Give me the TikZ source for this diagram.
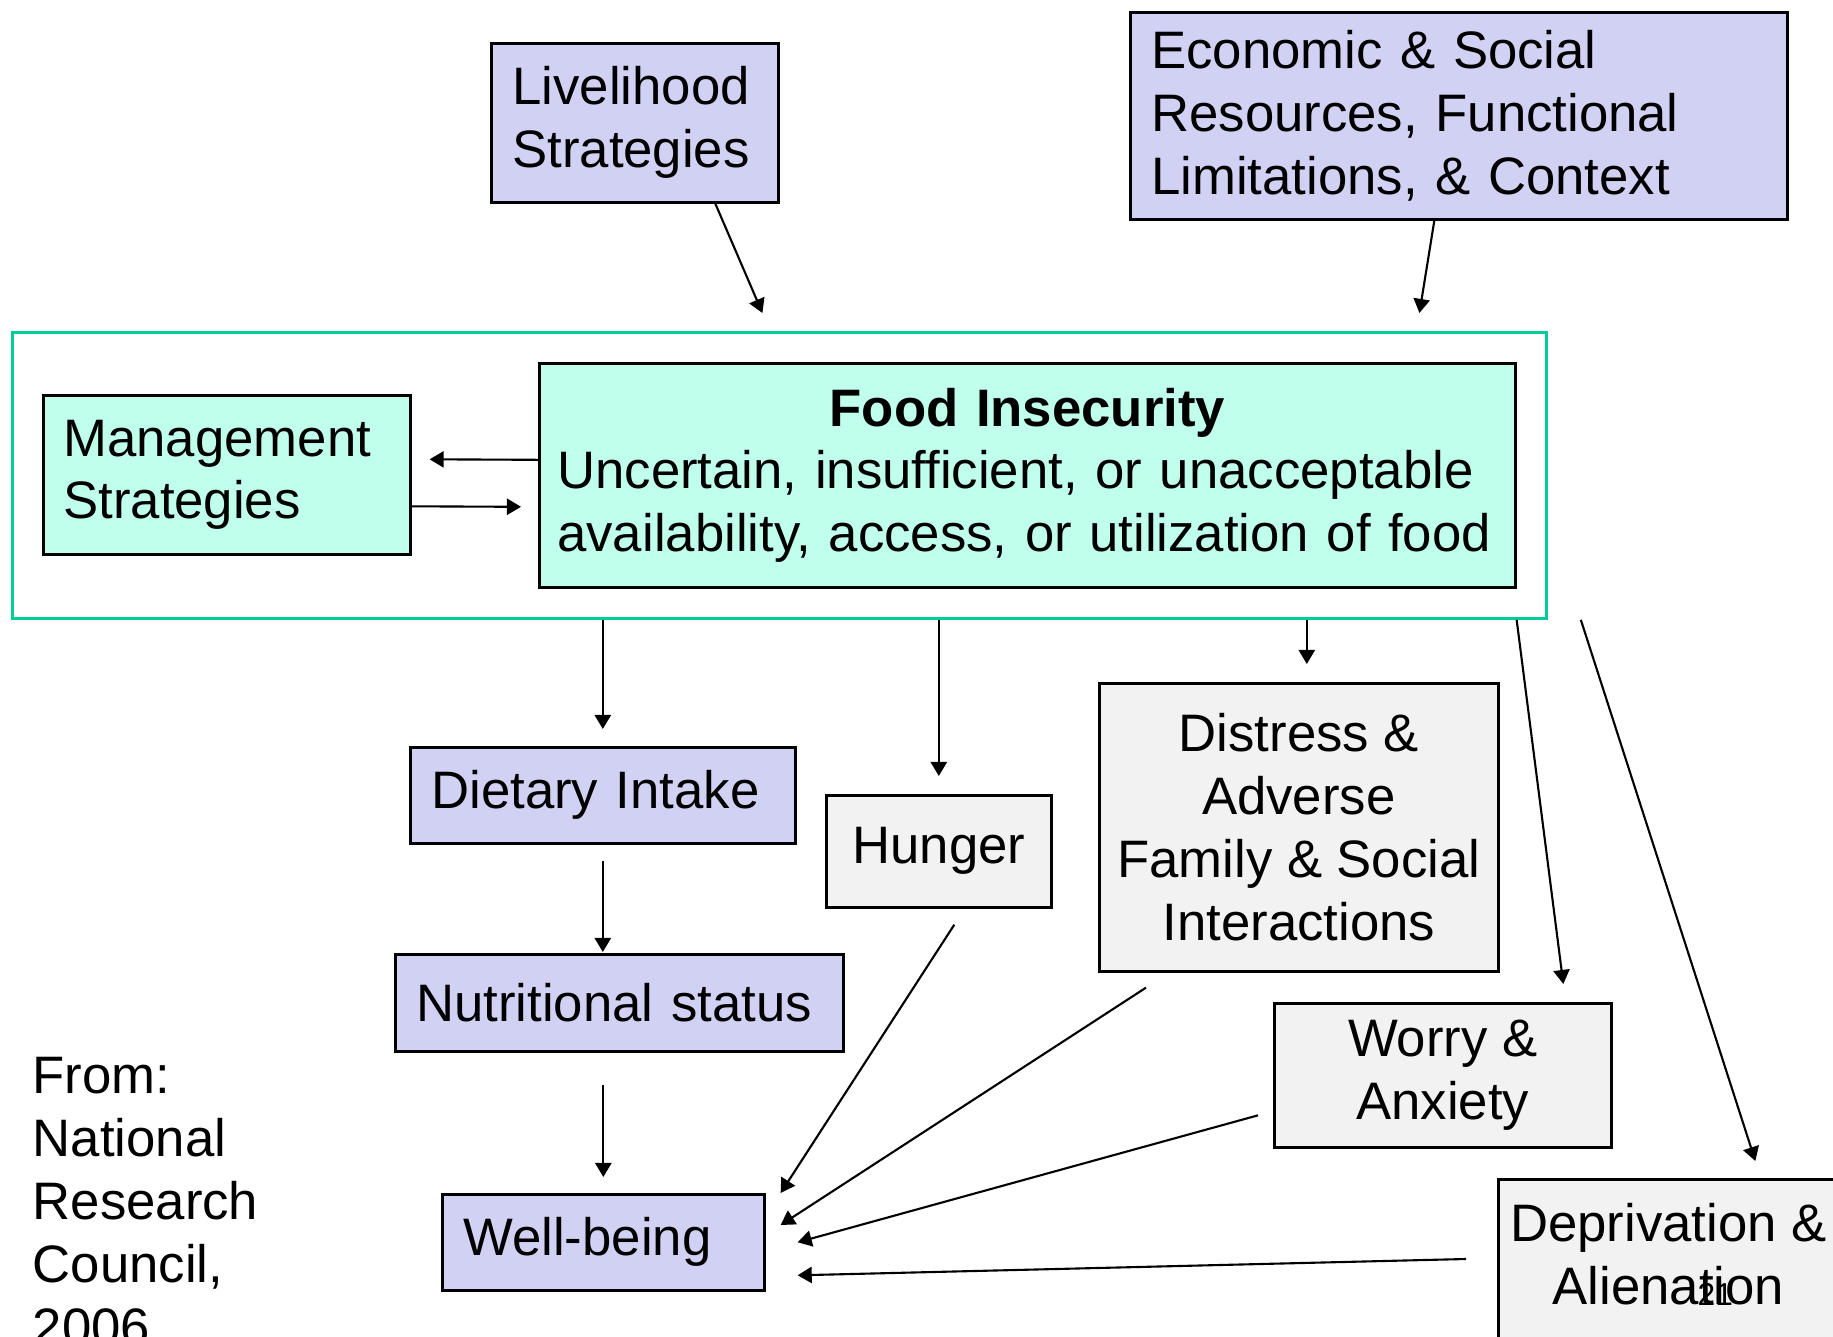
\documentclass[tikz,border=0pt]{standalone}
\usepackage{fontspec}
\setmainfont{Liberation Sans}
\usepackage{xcolor}
\usepackage{tikz}
\usetikzlibrary{calc, arrows.meta}
\definecolor{lavbox}{RGB}{209,209,243}
\definecolor{mintbox}{RGB}{192,255,236}
\definecolor{greybox}{RGB}{242,242,242}
\definecolor{frameline}{RGB}{0,204,153}
\tikzstyle{cause}   = [rectangle, anchor=north west, align=left, inner xsep=0.21cm, draw=black, line width=0.75pt, fill=lavbox]
\tikzstyle{core}    = [rectangle, anchor=north west, align=left, inner xsep=0.18cm, draw=black, line width=0.75pt, fill=mintbox]
\tikzstyle{effect}  = [rectangle, anchor=north west, align=center, inner sep=0pt, draw=black, line width=0.75pt, fill=greybox]
\tikzstyle{framebox}= [rectangle, anchor=north west, inner sep=0pt, draw=frameline, line width=0.8pt]
\tikzstyle{arrow}   = [line width=0.6pt, -{Triangle[length=4pt,width=4.6pt]}]

\begin{document}
\begin{tikzpicture}[font=\fontsize{15pt}{17.9pt}\selectfont]
    \useasboundingbox (0,0) rectangle (18.33,-13.37);
    \clip (0,0) rectangle (18.33,-13.37);

    \node (live)  [cause, text width=2.45cm, minimum height=1.59cm] at (4.90,-0.42) {Livelihood\\Strategies};
    \node (econ)  [cause, text width=6.15cm, minimum height=2.07cm] at (11.29,-0.11) {Economic \& Social\\Resources, Functional\\Limitations, \& Context};

    \node (frame) [framebox, minimum width=15.34cm, minimum height=2.86cm] at (0.11,-3.31) {};
    \node (mgmt)  [core, inner xsep=0.2cm, text width=3.27cm, minimum height=1.59cm] at (0.42,-3.94) {Management\\Strategies};
    \node (food)  [core, text width=9.40cm, minimum height=2.24cm] at (5.38,-3.62)
        {\makebox[9.40cm][c]{\bfseries Food Insecurity}\\Uncertain, insufficient, or unacceptable\\availability, access, or utilization of food};

    \node (diet)     [cause, text width=3.43cm, minimum height=0.96cm] at (4.09,-7.46) {Dietary Intake};
    \node (nutri)    [cause, text width=4.06cm, minimum height=0.97cm] at (3.94,-9.53) {Nutritional status};
    \node (well)     [cause, text width=2.80cm, minimum height=0.96cm] at (4.41,-11.93) {Well-being};
    \node (hunger)   [effect, minimum width=2.25cm, minimum height=1.12cm] at (8.25,-7.94) {Hunger};
    \node (distress) [effect, minimum width=3.99cm, minimum height=2.88cm] at (10.98,-6.82)
        {Distress \&\\Adverse\hspace*{0.2cm}\\Family \& Social\\Interactions};
    \node (worry)    [effect, minimum width=3.37cm, minimum height=1.44cm] at (12.73,-10.02) {Worry \&\\Anxiety};
    \node (depriv)   [effect, minimum width=3.40cm, minimum height=1.90cm, text depth=0.41cm] at (14.97,-11.78) {Deprivation \&\\Alienation};

    \node (source)  [anchor=north west, align=left, inner sep=0pt] at (0.32,-10.57) {From:\\National\\Research\\Council,\\2006};
    \node (slideno) [anchor=base west, inner sep=0pt, font=\fontsize{9pt}{10pt}\selectfont] at (16.97,-13.05) {21};

    \draw [arrow] ([xshift=0.805cm]live.south) -- ($(frame.north)+(-0.17,0.18)$);
    \draw [arrow] ([xshift=-0.245cm]econ.south) -- ($(frame.north)+(6.40,0.18)$);
    \draw [arrow] ([yshift=0.155cm]food.west) -- ($(mgmt.east)+(0.18,0.155)$);
    \draw [arrow] ([yshift=-0.315cm]mgmt.east) -- ($(food.west)+(-0.17,-0.315)$);

    \draw [arrow] (diet.north |- frame.south) -- ([yshift=0.17cm]diet.north);
    \draw [arrow] (hunger.north |- frame.south) -- ([yshift=0.18cm]hunger.north);
    \draw [arrow] ([xshift=0.08cm]distress.north |- frame.south) -- ([xshift=0.08cm,yshift=0.18cm]distress.north);
    \draw [arrow] (food.south east |- frame.south) -- ($(worry.north)+(1.205,0.18)$);
    \draw [arrow] ([xshift=0.33cm]frame.south east) -- ($(depriv.north)+(0.87,0.17)$);

    \draw [arrow] ([yshift=-0.16cm]diet.south) -- ([yshift=0.01cm]diet.south |- nutri.north);
    \draw [arrow] ([yshift=-0.32cm]well.north |- nutri.south) -- ([yshift=0.16cm]well.north);

    \draw [arrow] ($(hunger.south)+(0.155,-0.16)$) -- ([xshift=0.15cm]well.north east);
    \draw [arrow] ($(distress.south west)+(0.48,-0.15)$) -- ($(well.north east)+(0.15,-0.32)$);
    \draw [arrow] ($(worry.west)+(-0.15,-0.40)$) -- ([xshift=0.32cm]well.east);
    \draw [arrow] ($(depriv.north west)+(-0.31,-0.81)$) -- ($(well.east)+(0.32,-0.33)$);
\end{tikzpicture}
\end{document}
